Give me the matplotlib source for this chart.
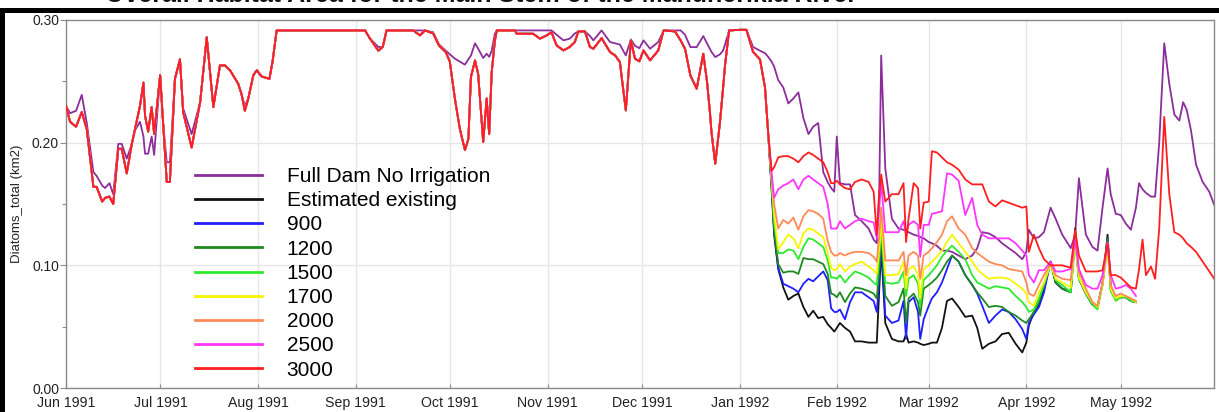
import numpy as np
import pandas as pd
import matplotlib
matplotlib.use("Agg")
import matplotlib.pyplot as plt
import matplotlib.dates as mdates
from matplotlib.ticker import MultipleLocator, FormatStrFormatter
from matplotlib.patches import Rectangle

plt.rcParams['font.family'] = ['Liberation Sans', 'DejaVu Sans']

BASE = pd.Timestamp('1991-06-01')

title = "Overall Habitat Area for the Main Stem of the Manuherikia River"
y_label = "Diatoms_total (km2)"
series_labels = ["Full Dam No Irrigation", "Estimated existing", "900", "1200",
                 "1500", "1700", "2000", "2500", "3000"]
series_colors = ["#8c2d9c", "#111111", "#1f1fff", "#1e8a1e", "#2eea2e",
                 "#f5f500", "#ff8a55", "#ff35ff", "#ff1e1e"]

# ---- Jun 1991 - Dec 1991 (days since 1 Jun 1991) ----
early_day = [0.0, 1.3, 3.2, 5.0, 6.6, 8.7, 9.7, 11.5, 12.4, 13.8,
             15.0, 16.6, 17.7, 19.3, 20.9, 21.9, 23.5, 24.6, 25.1, 26.1,
             27.2, 28.0, 29.9, 30.9, 32.0, 33.0, 34.6, 36.2, 37.2, 39.9,
             42.6, 44.7, 46.8, 48.9, 50.5, 52.1, 54.7, 55.8, 56.8, 57.9,
             59.5, 60.6, 62.1, 64.6, 65.6, 66.9, 95.0, 96.5, 99.2, 100.6,
             101.8, 110.3, 112.4, 114.0, 116.6, 118.5, 120.6, 121.9, 123.5, 125.1,
             126.7, 127.8, 128.6, 129.9, 130.9, 132.5, 133.6, 134.4, 135.2, 136.2,
             136.8, 142.6, 143.1, 148.4, 150.5, 152.7, 154.2, 155.8, 158.0, 160.0,
             161.6, 162.7, 164.8, 166.4, 167.5, 170.1, 172.8, 174.4, 175.9, 177.8,
             179.4, 180.7, 182.1, 183.4, 185.5, 188.1, 189.8, 193.4, 195.2, 196.6,
             198.3, 200.3, 202.4, 203.6, 204.5, 205.0, 206.2, 207.7, 208.7, 209.3,
             210.6]
early_full_dam = [0.230, 0.224, 0.226, 0.239, 0.216, 0.176, 0.173, 0.165, 0.163, 0.167,
                  0.158, 0.199, 0.199, 0.187, 0.199, 0.210, 0.217, 0.205, 0.191, 0.191,
                  0.205, 0.190, 0.255, 0.214, 0.184, 0.184, 0.252, 0.267, 0.228, 0.207,
                  0.233, 0.285, 0.229, 0.263, 0.263, 0.259, 0.248, 0.239, 0.230, 0.236,
                  0.255, 0.259, 0.254, 0.252, 0.266, 0.2915, 0.2915, 0.285, 0.278, 0.278,
                  0.2915, 0.2915, 0.2915, 0.2915, 0.290, 0.280, 0.275, 0.272, 0.2685, 0.266,
                  0.2636, 0.268, 0.271, 0.281, 0.2766, 0.269, 0.2725, 0.270, 0.275, 0.2888,
                  0.2915, 0.2915, 0.2915, 0.2915, 0.2915, 0.2915, 0.2915, 0.288, 0.2834, 0.2848,
                  0.289, 0.2907, 0.2907, 0.287, 0.2834, 0.2915, 0.282, 0.281, 0.280, 0.2711,
                  0.2842, 0.279, 0.277, 0.2834, 0.2766, 0.282, 0.2915, 0.2915, 0.2915, 0.288,
                  0.2779, 0.2779, 0.2869, 0.281, 0.2766, 0.274, 0.2698, 0.272, 0.2752, 0.280,
                  0.2915]
early_scenarios = [0.230, 0.217, 0.213, 0.225, 0.211, 0.164, 0.164, 0.152, 0.155, 0.156,
                   0.150, 0.195, 0.195, 0.175, 0.199, 0.211, 0.230, 0.249, 0.222, 0.209,
                   0.229, 0.207, 0.255, 0.214, 0.168, 0.168, 0.252, 0.268, 0.225, 0.196,
                   0.233, 0.286, 0.229, 0.263, 0.263, 0.259, 0.248, 0.239, 0.226, 0.236,
                   0.255, 0.259, 0.254, 0.252, 0.266, 0.2915, 0.2915, 0.285, 0.275, 0.278,
                   0.2915, 0.2915, 0.2875, 0.2915, 0.289, 0.279, 0.274, 0.266, 0.236, 0.211,
                   0.194, 0.203, 0.2535, 0.267, 0.256, 0.2005, 0.236, 0.207, 0.2575, 0.283,
                   0.2915, 0.2915, 0.2888, 0.2888, 0.2848, 0.2875, 0.290, 0.2793, 0.2752, 0.278,
                   0.282, 0.2907, 0.2907, 0.278, 0.2766, 0.2852, 0.2738, 0.2711, 0.2657, 0.2263,
                   0.2834, 0.2685, 0.2663, 0.2752, 0.2671, 0.2752, 0.2915, 0.2907, 0.2834, 0.2766,
                   0.2548, 0.2440, 0.2725, 0.2494, 0.225, 0.2086, 0.1829, 0.2168, 0.245, 0.2630,
                   0.2915]

# ---- Jan 1992 - early May 1992 ----
late_day = [214.0, 216.1, 218.2, 220.4, 222.0, 223.0, 224.1, 224.9, 226.2, 227.8,
            229.4, 231.0, 232.6, 234.2, 235.8, 237.3, 238.9, 240.5, 241.9, 243.0,
            244.0, 244.8, 245.8, 247.4, 249.0, 250.6, 252.7, 254.9, 256.5, 257.5,
            258.3, 258.9, 260.2, 262.3, 264.4, 266.0, 266.8, 267.6, 269.2, 270.6,
            271.3, 272.4, 274.0, 275.0, 276.6, 278.2, 279.8, 281.4, 283.5, 285.6,
            287.8, 289.4, 291.0, 293.1, 295.2, 297.3, 299.4, 301.6, 303.7, 305.0,
            305.8, 307.4, 309.0, 310.6, 312.7, 314.3, 316.4, 319.1, 320.5, 321.7,
            323.9, 326.0, 327.6, 329.2, 330.8, 331.8, 333.4, 335.0, 336.6, 338.2,
            339.8]
late_full_dam = [0.292, 0.292, 0.278, 0.275, 0.273, 0.270, 0.266, 0.262, 0.251, 0.245,
                 0.232, 0.236, 0.241, 0.220, 0.207, 0.213, 0.216, 0.176, 0.168, 0.163,
                 0.160, 0.205, 0.167, 0.166, 0.166, 0.141, 0.136, 0.130, 0.121, 0.118,
                 0.163, 0.271, 0.179, 0.138, 0.130, 0.129, 0.128, 0.127, 0.125, 0.124,
                 0.123, 0.122, 0.119, 0.118, 0.116, 0.112, 0.112, 0.111, 0.108, 0.105,
                 0.108, 0.114, 0.127, 0.126, 0.123, 0.118, 0.114, 0.110, 0.105, 0.111,
                 0.129, 0.122, 0.123, 0.127, 0.147, 0.138, 0.125, 0.114, 0.125, 0.171,
                 0.125, 0.115, 0.112, 0.147, 0.179, 0.158, 0.142, 0.141, 0.134, 0.129,
                 0.147]
late_existing = [0.292, 0.292, 0.274, 0.268, 0.245, 0.208, 0.162, 0.125, 0.097, 0.082,
                 0.072, 0.075, 0.077, 0.066, 0.058, 0.063, 0.057, 0.058, 0.052, 0.049,
                 0.046, 0.049, 0.053, 0.049, 0.046, 0.038, 0.038, 0.037, 0.037, 0.037,
                 0.081, 0.114, 0.053, 0.040, 0.038, 0.038, 0.044, 0.037, 0.038, 0.037,
                 0.036, 0.035, 0.036, 0.037, 0.037, 0.049, 0.071, 0.073, 0.066, 0.058,
                 0.059, 0.049, 0.032, 0.036, 0.038, 0.044, 0.045, 0.036, 0.029, 0.037,
                 0.051, 0.062, 0.068, 0.081, 0.103, 0.086, 0.081, 0.079, 0.130, 0.089,
                 0.077, 0.068, 0.066, 0.085, 0.125, 0.081, 0.073, 0.074, 0.074, 0.071,
                 0.070]
late_900 = [0.292, 0.292, 0.274, 0.268, 0.245, 0.208, 0.164, 0.128, 0.098, 0.085,
            0.083, 0.081, 0.078, 0.085, 0.089, 0.087, 0.091, 0.095, 0.088, 0.065,
            0.062, 0.062, 0.064, 0.056, 0.070, 0.078, 0.078, 0.074, 0.071, 0.062,
            0.089, 0.119, 0.059, 0.053, 0.055, 0.071, 0.040, 0.070, 0.074, 0.062,
            0.040, 0.056, 0.067, 0.073, 0.078, 0.086, 0.097, 0.108, 0.103, 0.092,
            0.084, 0.077, 0.067, 0.053, 0.059, 0.064, 0.062, 0.056, 0.048, 0.040,
            0.053, 0.060, 0.066, 0.078, 0.103, 0.086, 0.081, 0.078, 0.125, 0.089,
            0.077, 0.068, 0.066, 0.085, 0.122, 0.081, 0.073, 0.074, 0.074, 0.071,
            0.070]
late_1200 = [0.292, 0.292, 0.274, 0.268, 0.245, 0.208, 0.166, 0.130, 0.101, 0.094,
             0.095, 0.095, 0.093, 0.106, 0.105, 0.105, 0.103, 0.101, 0.093, 0.077,
             0.076, 0.074, 0.078, 0.070, 0.077, 0.082, 0.081, 0.079, 0.077, 0.073,
             0.097, 0.125, 0.075, 0.067, 0.070, 0.081, 0.053, 0.073, 0.077, 0.070,
             0.059, 0.081, 0.084, 0.086, 0.090, 0.096, 0.103, 0.108, 0.103, 0.092,
             0.084, 0.078, 0.073, 0.066, 0.067, 0.066, 0.062, 0.059, 0.055, 0.053,
             0.056, 0.062, 0.070, 0.084, 0.103, 0.086, 0.081, 0.078, 0.125, 0.089,
             0.077, 0.068, 0.066, 0.085, 0.122, 0.081, 0.073, 0.074, 0.074, 0.071,
             0.070]
late_1500 = [0.292, 0.292, 0.274, 0.268, 0.245, 0.208, 0.168, 0.135, 0.110, 0.110,
             0.113, 0.112, 0.105, 0.115, 0.122, 0.121, 0.118, 0.115, 0.104, 0.090,
             0.090, 0.089, 0.092, 0.086, 0.091, 0.095, 0.093, 0.090, 0.086, 0.084,
             0.108, 0.130, 0.086, 0.085, 0.086, 0.095, 0.075, 0.089, 0.092, 0.085,
             0.067, 0.088, 0.092, 0.095, 0.100, 0.107, 0.112, 0.116, 0.111, 0.105,
             0.092, 0.086, 0.084, 0.081, 0.083, 0.082, 0.081, 0.075, 0.070, 0.066,
             0.062, 0.064, 0.073, 0.084, 0.101, 0.088, 0.084, 0.078, 0.118, 0.089,
             0.077, 0.068, 0.064, 0.084, 0.115, 0.079, 0.071, 0.074, 0.074, 0.071,
             0.070]
late_1700 = [0.292, 0.292, 0.274, 0.268, 0.245, 0.208, 0.170, 0.142, 0.113, 0.119,
             0.125, 0.122, 0.114, 0.126, 0.130, 0.129, 0.126, 0.123, 0.110, 0.098,
             0.096, 0.097, 0.101, 0.095, 0.099, 0.101, 0.103, 0.099, 0.096, 0.093,
             0.114, 0.136, 0.092, 0.092, 0.093, 0.103, 0.081, 0.097, 0.099, 0.093,
             0.073, 0.097, 0.100, 0.103, 0.107, 0.112, 0.119, 0.125, 0.118, 0.111,
             0.103, 0.097, 0.093, 0.089, 0.090, 0.090, 0.089, 0.085, 0.081, 0.077,
             0.070, 0.067, 0.078, 0.086, 0.101, 0.089, 0.086, 0.082, 0.119, 0.090,
             0.078, 0.070, 0.066, 0.084, 0.116, 0.081, 0.073, 0.075, 0.075, 0.073,
             0.070]
late_2000 = [0.292, 0.292, 0.274, 0.268, 0.245, 0.208, 0.172, 0.150, 0.130, 0.137,
             0.134, 0.139, 0.129, 0.140, 0.145, 0.144, 0.142, 0.138, 0.120, 0.111,
             0.108, 0.108, 0.110, 0.108, 0.110, 0.111, 0.111, 0.110, 0.107, 0.103,
             0.125, 0.147, 0.104, 0.104, 0.104, 0.111, 0.092, 0.108, 0.111, 0.108,
             0.089, 0.108, 0.111, 0.114, 0.119, 0.125, 0.136, 0.140, 0.130, 0.125,
             0.114, 0.110, 0.107, 0.103, 0.101, 0.100, 0.097, 0.096, 0.095, 0.086,
             0.077, 0.075, 0.084, 0.092, 0.101, 0.092, 0.089, 0.088, 0.121, 0.095,
             0.081, 0.070, 0.067, 0.086, 0.118, 0.084, 0.075, 0.077, 0.075, 0.073,
             0.071]
late_2500 = [0.292, 0.292, 0.274, 0.268, 0.245, 0.208, 0.175, 0.155, 0.162, 0.165,
             0.167, 0.170, 0.162, 0.170, 0.173, 0.170, 0.167, 0.164, 0.150, 0.130,
             0.130, 0.130, 0.136, 0.130, 0.133, 0.136, 0.138, 0.136, 0.135, 0.122,
             0.147, 0.168, 0.127, 0.127, 0.127, 0.136, 0.125, 0.133, 0.136, 0.133,
             0.107, 0.133, 0.133, 0.142, 0.143, 0.144, 0.175, 0.174, 0.169, 0.141,
             0.155, 0.133, 0.125, 0.122, 0.122, 0.122, 0.122, 0.118, 0.112, 0.108,
             0.092, 0.086, 0.096, 0.096, 0.103, 0.095, 0.095, 0.097, 0.122, 0.097,
             0.084, 0.081, 0.081, 0.092, 0.119, 0.092, 0.081, 0.082, 0.084, 0.081,
             0.075]
late_3000 = [0.292, 0.292, 0.274, 0.268, 0.245, 0.208, 0.177, 0.180, 0.188, 0.189,
             0.189, 0.187, 0.184, 0.189, 0.192, 0.190, 0.187, 0.184, 0.176, 0.167,
             0.167, 0.169, 0.166, 0.163, 0.162, 0.168, 0.170, 0.168, 0.160, 0.125,
             0.158, 0.174, 0.152, 0.158, 0.158, 0.167, 0.119, 0.138, 0.167, 0.163,
             0.130, 0.151, 0.152, 0.193, 0.192, 0.188, 0.184, 0.182, 0.178, 0.170,
             0.166, 0.166, 0.166, 0.152, 0.148, 0.153, 0.151, 0.149, 0.147, 0.148,
             0.111, 0.125, 0.114, 0.105, 0.100, 0.100, 0.100, 0.098, 0.129, 0.108,
             0.095, 0.095, 0.095, 0.096, 0.118, 0.092, 0.092, 0.090, 0.086, 0.082,
             0.081]

# ---- May 1992 (only Full Dam and 3000 continue) ----
tail_day = [340.8, 341.9, 343.0, 344.6, 345.9, 347.2, 348.8, 350.4, 352.0, 353.6,
            354.8, 355.9, 357.3, 358.9, 361.0, 363.1, 364.7]
tail_full_dam = [0.167, 0.162, 0.159, 0.156, 0.156, 0.200, 0.281, 0.248, 0.223, 0.218,
                 0.233, 0.227, 0.210, 0.182, 0.168, 0.160, 0.149]
tail_3000 = [0.097, 0.121, 0.092, 0.099, 0.089, 0.130, 0.221, 0.158, 0.127, 0.125,
             0.122, 0.118, 0.115, 0.111, 0.103, 0.095, 0.089]

late_series = [late_full_dam, late_existing, late_900, late_1200, late_1500,
               late_1700, late_2000, late_2500, late_3000]


def to_dates(days):
    return BASE + pd.to_timedelta(np.asarray(days, dtype=float), unit='D')


W, H = 1219, 412
fig = plt.figure(figsize=(W / 100, H / 100), dpi=100)
ax = fig.add_axes([66 / W, 1 - 388 / H, (1214 - 66) / W, (388 - 20) / H])

for i, (lab, col, late) in enumerate(zip(series_labels, series_colors, late_series)):
    if i == 0:
        days = early_day + late_day + tail_day
        vals = early_full_dam + late + tail_full_dam
    elif lab == "3000":
        days = early_day + late_day + tail_day
        vals = early_scenarios + late + tail_3000
    else:
        days = early_day + late_day
        vals = early_scenarios + late
    ax.plot(to_dates(days), vals, color=col, lw=1.3, label=lab, zorder=2 + i,
            solid_joinstyle='round')

ax.set_ylim(0, 0.30)
ax.set_xlim(BASE, BASE + pd.Timedelta(days=364.6))
ax.yaxis.set_major_locator(MultipleLocator(0.10))
ax.yaxis.set_minor_locator(MultipleLocator(0.05))
ax.yaxis.set_major_formatter(FormatStrFormatter('%.2f'))
ax.xaxis.set_major_locator(mdates.MonthLocator())
ax.xaxis.set_major_formatter(mdates.DateFormatter('%b %Y'))

ax.grid(True, which='major', color='#e6e6e6', lw=1.0, zorder=0)
ax.set_axisbelow(True)
for s in ax.spines.values():
    s.set_color('#8a8a8a')
    s.set_linewidth(1.0)
ax.tick_params(axis='y', which='major', direction='out', length=4, width=0.8,
               color='#8a8a8a', labelsize=10, pad=1, labelcolor='#222222')
ax.tick_params(axis='y', which='minor', direction='out', length=3, width=0.8,
               color='#8a8a8a')
ax.tick_params(axis='x', which='major', direction='in', length=3, width=0.8,
               color='#8a8a8a', labelsize=10.2, pad=6, labelcolor='#222222')
ax.set_ylabel(y_label, fontsize=9.5, color='#222222')
ax.yaxis.set_label_coords(-0.0375, 0.5)

leg = ax.legend(loc='upper left', bbox_to_anchor=(195 / W, 1 - 167 / H),
                bbox_transform=fig.transFigure, frameon=False, fontsize=15,
                handlelength=3.2, handletextpad=1.2, labelspacing=0.25,
                borderpad=0, borderaxespad=0)
for line in leg.get_lines():
    line.set_linewidth(2.0)

fig.text(481 / W, 1 - 2.0 / H, title, ha='center', va='baseline',
         fontsize=18, fontweight='bold', color='#111111')

fig.add_artist(Rectangle((0, 1 - 12.5 / H), 1, 4.5 / H, transform=fig.transFigure,
                         color='black', lw=0, zorder=10))
fig.add_artist(Rectangle((0, 0), 4.5 / W, 1 - 8 / H, transform=fig.transFigure,
                         color='black', lw=0, zorder=10))

fig.savefig('out.png', dpi=100)
